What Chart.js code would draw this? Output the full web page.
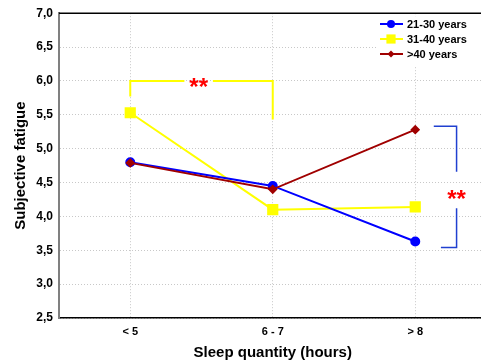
<!DOCTYPE html>
<html>
<head>
<meta charset="utf-8">
<script src="https://cdn.jsdelivr.net/npm/chart.js@4/dist/chart.umd.min.js"></script>
<style>
  html, body { margin: 0; padding: 0; background: #fff; overflow: hidden; }
  #wrap { width: 495px; height: 362px; }
</style>
</head>
<body>
<div id="wrap"><canvas id="mychart" width="495" height="362"></canvas></div>
<script>
// data
var sleepGroups = ["< 5", "6 - 7", "> 8"]
var age21to30 = [4.80, 4.45, 3.63]
var age31to40 = [5.53, 4.10, 4.14]
var ageOver40 = [4.79, 4.40, 5.28]
var yTicks = [2.5, 3.0, 3.5, 4.0, 4.5, 5.0, 5.5, 6.0, 6.5, 7.0]

var FONT = "'Liberation Sans', Arial, sans-serif"

// brackets with ** drawn in data units
var extras = {
    id: "extras",
    afterDatasetsDraw: function(chart){
        var ctx = chart.ctx, x = chart.scales.x, y = chart.scales.y
        var a = chart.chartArea
        ctx.save()
        // top frame line
        ctx.strokeStyle = "#000"
        ctx.lineWidth = 1.5
        ctx.beginPath()
        ctx.moveTo(a.left, a.top); ctx.lineTo(a.right, a.top)
        ctx.stroke()

        // yellow bracket between <5 and 6-7
        var x0 = x.getPixelForValue(0), x1 = x.getPixelForValue(1)
        var yb = y.getPixelForValue(6.0)
        ctx.strokeStyle = "#ffff00"
        ctx.lineWidth = 2
        ctx.beginPath()
        ctx.moveTo(x0, y.getPixelForValue(5.77)); ctx.lineTo(x0, yb); ctx.lineTo(x.getPixelForValue(0.38), yb)
        ctx.moveTo(x.getPixelForValue(0.58), yb); ctx.lineTo(x1, yb); ctx.lineTo(x1, y.getPixelForValue(5.43))
        ctx.stroke()

        // blue bracket at > 8
        var xb = x.getPixelForValue(2.29)
        ctx.strokeStyle = "#2040d0"
        ctx.lineWidth = 1.5
        ctx.beginPath()
        ctx.moveTo(x.getPixelForValue(2.13), y.getPixelForValue(5.33))
        ctx.lineTo(xb, y.getPixelForValue(5.33)); ctx.lineTo(xb, y.getPixelForValue(4.66))
        ctx.moveTo(xb, y.getPixelForValue(4.12)); ctx.lineTo(xb, y.getPixelForValue(3.54))
        ctx.lineTo(x.getPixelForValue(2.18), y.getPixelForValue(3.54))
        ctx.stroke()

        // stars
        ctx.fillStyle = "#ff0000"
        ctx.font = "bold 24px " + FONT
        ctx.textAlign = "center"
        ctx.textBaseline = "middle"
        ctx.fillText("**", x.getPixelForValue(0.48), yb + 7)
        ctx.fillText("**", xb, y.getPixelForValue(4.40) + 11)

        // legend box
        var items = chart.data.datasets
        ctx.fillStyle = "#fff"
        ctx.fillRect(378, a.top + 3, a.right - 378, 50)
        ctx.font = "bold 11px " + FONT
        ctx.textAlign = "left"
        for (var i = 0; i < items.length; i++){
            var ly = 24 + i * 15
            ctx.strokeStyle = items[i].borderColor
            ctx.lineWidth = 2
            ctx.beginPath(); ctx.moveTo(380, ly); ctx.lineTo(403, ly); ctx.stroke()
            ctx.fillStyle = items[i].backgroundColor
            Chart.helpers.drawPoint(ctx, {pointStyle: items[i].pointStyle, radius: items[i].legendRadius, rotation: 0, borderWidth: 0}, 391, ly)
            ctx.fillStyle = "#000"
            ctx.fillText(items[i].label, 407, ly + 1)
        }
        ctx.restore()
    }
}

var myChart = document.getElementById("mychart").getContext("2d")

var chart = new Chart(myChart, {
    type: "line",
    data: {
        labels: sleepGroups,
        datasets: [
            {
                label: "21-30 years",
                data: age21to30,
                borderColor: "#0000ff",
                backgroundColor: "#0000ff",
                borderWidth: 2,
                pointStyle: "circle",
                pointRadius: 4,
                legendRadius: 4,
                order: 2
            },
            {
                label: "31-40 years",
                data: age31to40,
                borderColor: "#ffff00",
                backgroundColor: "#ffff00",
                borderWidth: 2,
                pointStyle: "rect",
                pointRadius: 6.5,
                legendRadius: 6.5,
                order: 3
            },
            {
                label: ">40 years",
                data: ageOver40,
                borderColor: "#a00000",
                backgroundColor: "#a00000",
                borderWidth: 2,
                pointStyle: "rectRot",
                pointRadius: 3.5,
                legendRadius: 3.5,
                order: 1
            }
        ]
    },
    options: {
        responsive: false,
        animation: false,
        layout: { padding: { top: 1, left: 12, right: 0, bottom: 0 } },
        plugins: { legend: { display: false }, tooltip: { enabled: false } },
        elements: { line: { tension: 0 }, point: { borderWidth: 0 } },
        scales: {
            x: {
                offset: true,
                grid: { color: "#c8c8c8", drawTicks: false, offset: false },
                border: { color: "#000", width: 1.5, dash: [1, 2] },
                ticks: { color: "#000", font: { family: FONT, size: 11, weight: "bold" }, padding: 7 },
                title: { display: true, text: "Sleep quantity (hours)", color: "#000", font: { family: FONT, size: 15, weight: "bold" }, padding: { top: 1, bottom: 0 } },
                afterFit: function(s){ s.height = 44 }
            },
            y: {
                min: 2.5,
                max: 7.0,
                afterBuildTicks: function(s){ s.ticks = yTicks.map(function(v){ return { value: v } }) },
                grid: { color: "#c8c8c8", drawTicks: false },
                border: { color: "#808080", width: 2, dash: [1, 2] },
                ticks: {
                    color: "#000",
                    font: { family: FONT, size: 12, weight: "bold" },
                    padding: 6,
                    callback: function(v){ return v.toFixed(1).replace(".", ",") }
                },
                title: { display: true, text: "Subjective fatigue", color: "#000", font: { family: FONT, size: 15, weight: "bold" }, padding: { top: 0, bottom: 0 } },
                afterFit: function(s){ s.width = 47 }
            }
        }
    },
    plugins: [extras]
})
</script>
</body>
</html>
